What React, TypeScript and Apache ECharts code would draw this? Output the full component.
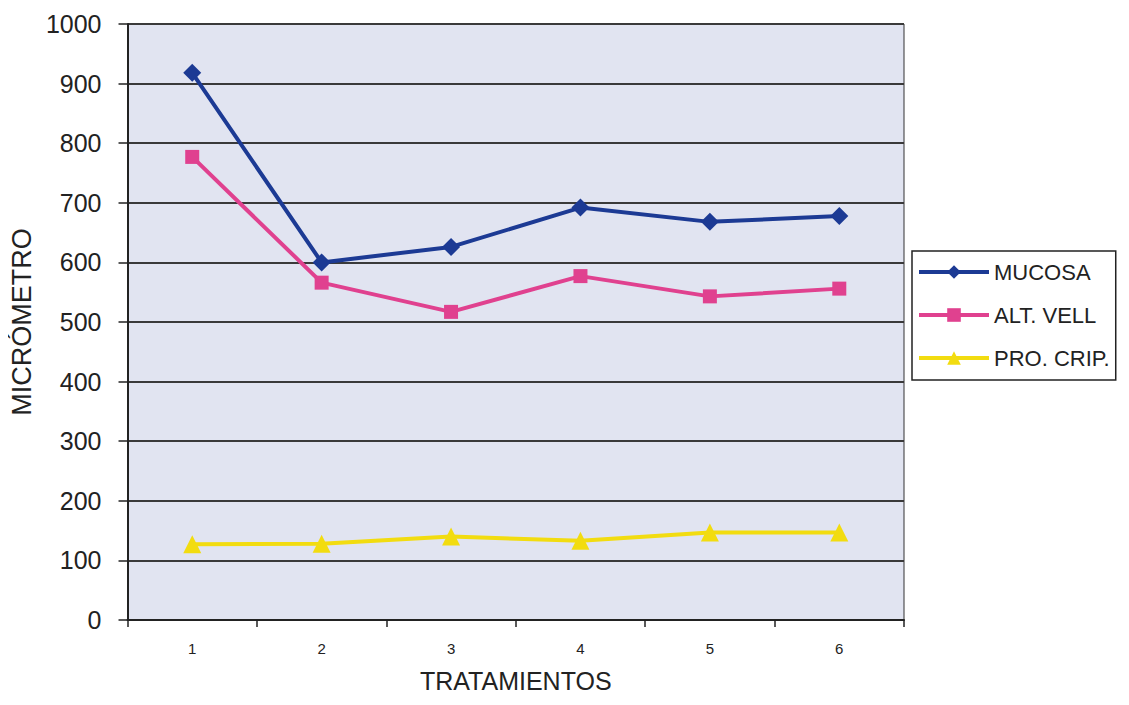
import React, { useEffect, useRef } from "react";
import * as echarts from "echarts";

const categories = ["1", "2", "3", "4", "5", "6"];
const mucosa = [918, 600, 626, 692, 668, 678];
const altVell = [777, 566, 517, 577, 543, 556];
const proCrip = [127, 128, 140, 133, 147, 147];
const yTicks = [0, 100, 200, 300, 400, 500, 600, 700, 800, 900, 1000];

export default function App() {
  const ref = useRef<HTMLDivElement>(null);
  useEffect(() => {
    if (!ref.current) return;
    const chart = echarts.init(ref.current, null, { renderer: "svg" });
    const font = "Liberation Sans, Arial, sans-serif";
    chart.setOption({
      animation: false,
      backgroundColor: "#ffffff",
      grid: {
        left: 127,
        right: 225,
        top: 24,
        bottom: 85,
        show: true,
        backgroundColor: "#e1e4f1",
        borderColor: "#333333",
        borderWidth: 1,
      },
      legend: {
        orient: "vertical",
        left: 912,
        top: 251,
        padding: [10, 6, 11, 5],
        itemGap: 21,
        itemWidth: 70,
        itemHeight: 17,
        borderColor: "#222222",
        borderWidth: 1.5,
        backgroundColor: "#ffffff",
        lineStyle: { width: 4 },
        textStyle: { fontFamily: font, fontSize: 22, color: "#222222", padding: [0, 0, 0, 0] },
        data: ["MUCOSA", "ALT. VELL", "PRO. CRIP."],
      },
      xAxis: {
        type: "category",
        data: categories,
        boundaryGap: true,
        name: "TRATAMIENTOS",
        nameLocation: "middle",
        nameGap: 48,
        nameTextStyle: { fontFamily: font, fontSize: 25, color: "#222222" },
        axisLine: { lineStyle: { color: "#222222", width: 2 } },
        axisTick: { show: true, length: 7, lineStyle: { color: "#222222", width: 1.5 } },
        axisLabel: { fontFamily: font, fontSize: 15, color: "#222222", margin: 21 },
        splitLine: { show: false },
      },
      yAxis: {
        type: "value",
        min: yTicks[0],
        max: yTicks[yTicks.length - 1],
        interval: 100,
        name: "MICRÓMETRO",
        nameLocation: "middle",
        nameGap: 90,
        nameRotate: 90,
        nameTextStyle: { fontFamily: font, fontSize: 27, color: "#222222" },
        axisLine: { show: true, lineStyle: { color: "#222222", width: 2 } },
        axisTick: { show: true, length: 9, lineStyle: { color: "#222222", width: 1.5 } },
        axisLabel: {
          fontFamily: font,
          fontSize: 25,
          color: "#222222",
          margin: 26,
          formatter: (v: number) => String(v),
        },
        splitLine: { show: true, lineStyle: { color: "#3a3a3a", width: 1.8 } },
      },
      series: [
        {
          name: "MUCOSA",
          type: "line",
          data: mucosa,
          color: "#1c3a94",
          symbol: "diamond",
          symbolSize: 18,
          lineStyle: { width: 4, color: "#1c3a94" },
          itemStyle: { color: "#1c3a94" },
        },
        {
          name: "ALT. VELL",
          type: "line",
          data: altVell,
          color: "#e0418f",
          symbol: "rect",
          symbolSize: 14,
          lineStyle: { width: 4, color: "#e0418f" },
          itemStyle: { color: "#e0418f" },
        },
        {
          name: "PRO. CRIP.",
          type: "line",
          data: proCrip,
          color: "#f2dc10",
          symbol: "triangle",
          symbolSize: 18,
          lineStyle: { width: 4, color: "#f2dc10" },
          itemStyle: { color: "#f2dc10" },
        },
      ],
    });
    return () => chart.dispose();
  }, []);
  return <div ref={ref} style={{ width: 1129, height: 705, margin: -8 }} />;
}
